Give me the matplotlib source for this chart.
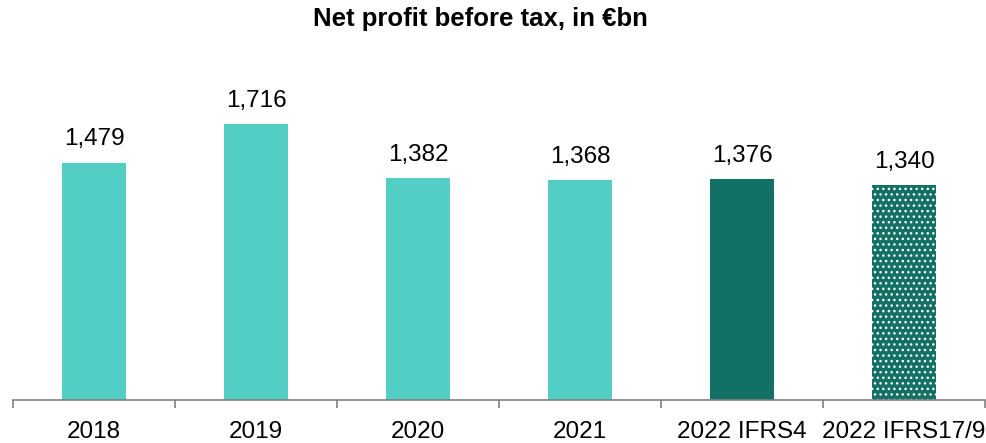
import numpy as np
import matplotlib.pyplot as plt

plt.rcParams['font.family'] = ['Liberation Sans', 'DejaVu Sans']

categories = ['2018', '2019', '2020', '2021', '2022 IFRS4', '2022 IFRS17/9']
values = [1479, 1716, 1382, 1368, 1376, 1340]
labels = ['1,479', '1,716', '1,382', '1,368', '1,376', '1,340']

light = '#52CEC5'
dark = '#127064'
colors = [light, light, light, light, dark, dark]

fig = plt.figure(figsize=(9.87, 4.43), dpi=100)
ax = fig.add_axes([0.0132, 0.097, 0.9848, 0.725])

x = np.arange(len(categories))
bars = ax.bar(x, values, width=0.4, color=colors, edgecolor='none')
plt.rcParams['hatch.color'] = 'white'
plt.rcParams['hatch.linewidth'] = 1.0
bars[-1].set_hatch('...')
bars[-1].set_edgecolor('white')
bars[-1].set_linewidth(0)

for xi, v, lab in zip(x, values, labels):
    ax.text(xi, v + 75, lab, ha='center', va='bottom', fontsize=17.5)

ax.set_xlim(-0.5, 5.5)
ax.set_ylim(0, 2000)
ax.set_xticks(x)
ax.set_xticklabels(categories, fontsize=17.5)
ax.tick_params(axis='x', which='major', length=0, pad=15)
ax.set_xticks(np.arange(-0.5, 6, 1), minor=True)
ax.tick_params(axis='x', which='minor', length=6, color='#808080', width=1.2)
ax.set_yticks([])
for s in ['top', 'right', 'left']:
    ax.spines[s].set_visible(False)
ax.spines['bottom'].set_color('#808080')
ax.spines['bottom'].set_linewidth(1.2)

fig.text(0.487, 0.958, 'Net profit before tax, in €bn', ha='center', va='center',
         fontsize=18.5, fontweight='bold')

plt.savefig('out.png', dpi=100)
